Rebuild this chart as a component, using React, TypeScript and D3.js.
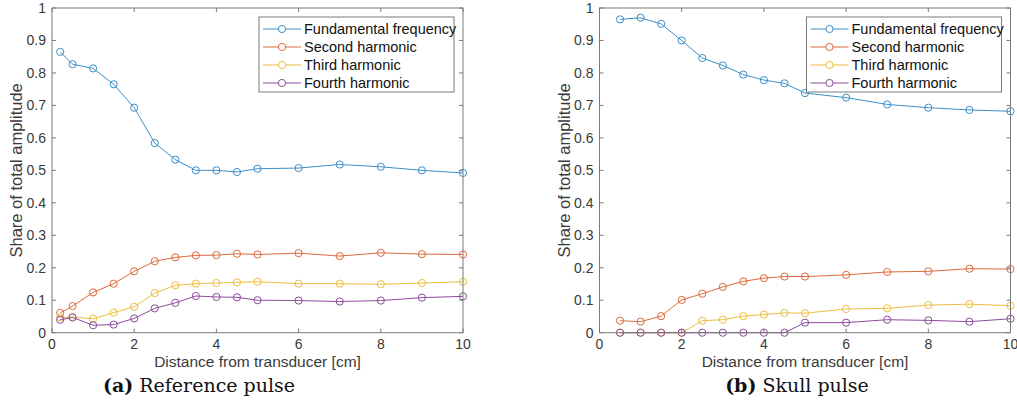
import React from "react";
import * as d3 from "d3";

const seriesNames = ["Fundamental frequency", "Second harmonic", "Third harmonic", "Fourth harmonic"];
const seriesColors = ["#3b8fc9", "#dc6a3c", "#eebd3e", "#8d4b9c"];

const xTicks = [0, 2, 4, 6, 8, 10];
const yTicks = [0, 0.1, 0.2, 0.3, 0.4, 0.5, 0.6, 0.7, 0.8, 0.9, 1];
const yTickLabels = ["0", "0.1", "0.2", "0.3", "0.4", "0.5", "0.6", "0.7", "0.8", "0.9", "1"];

// (a) Reference pulse
const refDistance = [0.2, 0.5, 1, 1.5, 2, 2.5, 3, 3.5, 4, 4.5, 5, 6, 7, 8, 9, 10];
const refFundamental = [0.865, 0.827, 0.814, 0.765, 0.693, 0.584, 0.533, 0.5, 0.5, 0.495, 0.505, 0.507, 0.518, 0.511, 0.5, 0.492];
const refSecond = [0.061, 0.082, 0.124, 0.151, 0.189, 0.22, 0.232, 0.238, 0.239, 0.243, 0.241, 0.245, 0.236, 0.246, 0.242, 0.241];
const refThird = [0.047, 0.048, 0.043, 0.062, 0.08, 0.122, 0.146, 0.151, 0.153, 0.155, 0.157, 0.151, 0.151, 0.149, 0.153, 0.157];
const refFourth = [0.04, 0.047, 0.023, 0.025, 0.044, 0.075, 0.092, 0.113, 0.11, 0.109, 0.1, 0.099, 0.096, 0.099, 0.108, 0.112];

// (b) Skull pulse
const skullDistance = [0.5, 1, 1.5, 2, 2.5, 3, 3.5, 4, 4.5, 5, 6, 7, 8, 9, 10];
const skullFundamental = [0.965, 0.97, 0.951, 0.9, 0.846, 0.823, 0.795, 0.778, 0.768, 0.738, 0.724, 0.703, 0.693, 0.686, 0.682];
const skullSecond = [0.037, 0.034, 0.051, 0.101, 0.12, 0.141, 0.158, 0.168, 0.173, 0.173, 0.178, 0.187, 0.189, 0.197, 0.196];
const skullThird = [0, 0, 0, 0, 0.037, 0.04, 0.051, 0.056, 0.061, 0.06, 0.073, 0.075, 0.085, 0.088, 0.083];
const skullFourth = [0, 0, 0, 0, 0, 0, 0, 0, 0, 0.031, 0.031, 0.04, 0.038, 0.034, 0.043];

const xLabel = "Distance from transducer [cm]";
const yLabel = "Share of total amplitude";

const AXIS_COLOR = "#7a7a7a";
const TEXT_COLOR = "#3a3a3a";
const SANS = "'Liberation Sans', Arial, Helvetica, sans-serif";
const SERIF = "'DejaVu Serif', 'Liberation Serif', serif";

type PanelProps = {
  left: number;
  distance: number[];
  series: number[][];
  captionTag: string;
  captionText: string;
  captionX: number;
};

function Panel({ left, distance, series, captionTag, captionText, captionX }: PanelProps) {
  const width = 411;
  const top = 8;
  const bottom = 332.7;
  const x = d3.scaleLinear().domain([0, 10]).range([left, left + width]);
  const y = d3.scaleLinear().domain([0, 1]).range([bottom, top]);
  const line = d3
    .line<[number, number]>()
    .x((d) => x(d[0]))
    .y((d) => y(d[1]));
  const tickLen = 4;
  const legX = left + 207;
  const legY = 17;
  const legW = 195;
  const legH = 75;
  const rowY = [29, 47, 65, 83];

  return (
    <g>
      <rect x={x(0)} y={y(1)} width={x(10) - x(0)} height={y(0) - y(1)} fill="white" stroke="none" />
      {series.map((vals, si) => {
        const pts: [number, number][] = distance.map((d, i) => [d, vals[i]]);
        return (
          <g key={si}>
            <path d={line(pts) || ""} fill="none" stroke={seriesColors[si]} strokeWidth={1} />
            {pts.map((p, i) => (
              <circle key={i} cx={x(p[0])} cy={y(p[1])} r={3.6} fill="none" stroke={seriesColors[si]} strokeWidth={1} />
            ))}
          </g>
        );
      })}
      <rect x={x(0)} y={y(1)} width={x(10) - x(0)} height={y(0) - y(1)} fill="none" stroke={AXIS_COLOR} strokeWidth={1} />
      {xTicks.map((t) => (
        <g key={"x" + t}>
          <line x1={x(t)} x2={x(t)} y1={y(0)} y2={y(0) - tickLen} stroke={AXIS_COLOR} />
          <line x1={x(t)} x2={x(t)} y1={y(1)} y2={y(1) + tickLen} stroke={AXIS_COLOR} />
          <text x={x(t)} y={y(0) + 16.5} textAnchor="middle" fontFamily={SANS} fontSize={14} fill={TEXT_COLOR}>
            {t}
          </text>
        </g>
      ))}
      {yTicks.map((t, i) => (
        <g key={"y" + t}>
          <line x1={x(0)} x2={x(0) + tickLen} y1={y(t)} y2={y(t)} stroke={AXIS_COLOR} />
          <line x1={x(10)} x2={x(10) - tickLen} y1={y(t)} y2={y(t)} stroke={AXIS_COLOR} />
          <text x={x(0) - 6} y={y(t) + 5} textAnchor="end" fontFamily={SANS} fontSize={14} fill={TEXT_COLOR}>
            {yTickLabels[i]}
          </text>
        </g>
      ))}
      <text x={(x(0) + x(10)) / 2} y={367} textAnchor="middle" fontFamily={SANS} fontSize={15.5} fill={TEXT_COLOR}>
        {xLabel}
      </text>
      <text
        transform={`translate(${left - 30},${(top + bottom) / 2}) rotate(-90)`}
        textAnchor="middle"
        fontFamily={SANS}
        fontSize={16.5}
        fill={TEXT_COLOR}
      >
        {yLabel}
      </text>
      <rect x={legX} y={legY} width={legW} height={legH} fill="white" stroke={AXIS_COLOR} strokeWidth={1} />
      {seriesNames.map((name, i) => (
        <g key={name}>
          <line x1={legX + 4} x2={legX + 42} y1={rowY[i]} y2={rowY[i]} stroke={seriesColors[i]} strokeWidth={1} />
          <circle cx={legX + 23} cy={rowY[i]} r={3.6} fill="white" stroke={seriesColors[i]} strokeWidth={1} />
          <text x={legX + 45} y={rowY[i] + 5} fontFamily={SANS} fontSize={14.5} fill="#111">
            {name}
          </text>
        </g>
      ))}
      <text x={captionX} y={392} textAnchor="middle" fontFamily={SERIF} fontSize={19} fill="#111">
        <tspan fontWeight="bold">{captionTag}</tspan>
        <tspan>{" " + captionText}</tspan>
      </text>
    </g>
  );
}

export default function App() {
  return (
    <svg
      width={1017}
      height={412}
      style={{ position: "absolute", left: 0, top: 0, background: "white", display: "block" }}
    >
      <rect x={0} y={0} width={1017} height={412} fill="white" />
      <Panel
        left={52}
        distance={refDistance}
        series={[refFundamental, refSecond, refThird, refFourth]}
        captionTag="(a)"
        captionText="Reference pulse"
        captionX={199}
      />
      <Panel
        left={599.5}
        distance={skullDistance}
        series={[skullFundamental, skullSecond, skullThird, skullFourth]}
        captionTag="(b)"
        captionText="Skull pulse"
        captionX={797}
      />
    </svg>
  );
}
